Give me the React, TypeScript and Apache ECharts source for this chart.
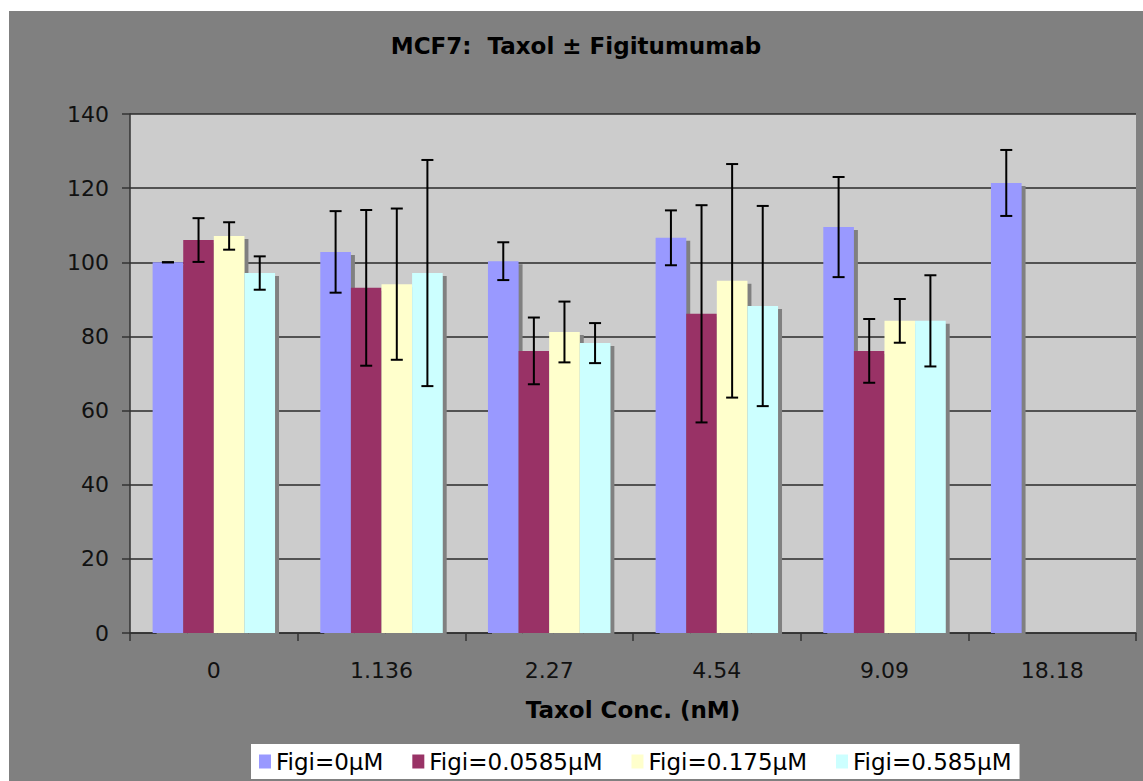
import React, { useEffect, useRef } from "react";
import * as echarts from "echarts";

const categories = ["0", "1.136", "2.27", "4.54", "9.09", "18.18"];
const seriesNames = ["Figi=0μM", "Figi=0.0585μM", "Figi=0.175μM", "Figi=0.585μM"];
const seriesColors = ["#9999FF", "#993366", "#FFFFCC", "#CCFFFF"];

const figi0 = [100, 102.8, 100.3, 106.6, 109.5, 121.4];
const figi00585 = [106, 93.1, 76.1, 86.1, 76.1, null];
const figi0175 = [107.1, 94.1, 81.2, 95.0, 84.2, null];
const figi0585 = [97.1, 97.1, 78.2, 88.2, 84.2, null];

const err0 = [0, 11, 5.1, 7.4, 13.5, 8.9];
const err00585 = [5.9, 21, 9, 29.3, 8.6, null];
const err0175 = [3.7, 20.4, 8.2, 31.5, 5.9, null];
const err0585 = [4.5, 30.5, 5.4, 27, 12.3, null];

const yTicks = { min: 0, max: 140, interval: 20 };

const FONT = "DejaVu Sans";
const CAT_GAP = 0.27;

export default function App() {
  const ref = useRef<HTMLDivElement>(null);

  useEffect(() => {
    if (!ref.current) return;
    const chart = echarts.init(ref.current, null, { renderer: "svg" });

    const values = [figi0, figi00585, figi0175, figi0585];
    const errors = [err0, err00585, err0175, err0585];

    const errData: number[][] = [];
    values.forEach((vals, s) => {
      vals.forEach((v, i) => {
        const e = errors[s][i];
        if (v !== null && e !== null && e !== undefined) {
          errData.push([i, v as number, e as number, s]);
        }
      });
    });

    const barSeries = seriesNames.map((name, s) => ({
      name,
      type: "bar",
      data: values[s],
      barGap: "0%",
      barCategoryGap: CAT_GAP * 100 + "%",
      itemStyle: {
        color: seriesColors[s],
        shadowColor: "#808080",
        shadowOffsetX: 4,
        shadowOffsetY: 3,
        shadowBlur: 0,
      },
      emphasis: { disabled: true },
      z: 2,
    }));

    const option: any = {
      animation: false,
      backgroundColor: "#808080",
      textStyle: { fontFamily: FONT },
      title: {
        text: "MCF7:  Taxol ± Figitumumab",
        left: "center",
        top: 23,
        padding: 0,
        textStyle: {
          fontFamily: FONT,
          fontWeight: "bold",
          fontSize: 23,
          lineHeight: 23,
          color: "#000",
        },
      },
      legend: {
        data: seriesNames,
        left: 242,
        top: 733,
        padding: [6, 8, 6, 8],
        backgroundColor: "#FFFFFF",
        itemWidth: 12,
        itemHeight: 14,
        itemGap: 29,
        icon: "rect",
        selectedMode: false,
        textStyle: { fontFamily: FONT, fontSize: 23, lineHeight: 23, color: "#000" },
      },
      grid: {
        left: 121,
        top: 103,
        right: 7,
        bottom: 148,
        show: true,
        backgroundColor: "#CCCCCC",
        borderWidth: 0,
      },
      xAxis: {
        type: "category",
        data: categories,
        name: "Taxol Conc. (nM)",
        nameLocation: "middle",
        nameGap: 65,
        nameTextStyle: {
          fontFamily: FONT,
          fontWeight: "bold",
          fontSize: 23,
          lineHeight: 23,
          color: "#000",
        },
        axisLine: { show: true, lineStyle: { color: "#333", width: 1.5 } },
        axisTick: { show: true, alignWithLabel: false, length: 8, lineStyle: { color: "#333", width: 1.5 } },
        axisLabel: { fontFamily: FONT, fontSize: 22, lineHeight: 22, color: "#111", margin: 26 },
        splitLine: { show: false },
      },
      yAxis: {
        type: "value",
        min: yTicks.min,
        max: yTicks.max,
        interval: yTicks.interval,
        axisLine: { show: true, lineStyle: { color: "#333", width: 1.5 } },
        axisTick: { show: true, length: 8, lineStyle: { color: "#333", width: 1.5 } },
        axisLabel: { fontFamily: FONT, fontSize: 22, color: "#111", margin: 21 },
        splitLine: { show: true, lineStyle: { color: "#2a2a2a", width: 1.5 } },
      },
      series: [
        ...barSeries,
        {
          type: "custom",
          data: errData,
          encode: { x: 0, y: 1 },
          z: 10,
          silent: true,
          renderItem: (params: any, api: any) => {
            const cat = api.value(0);
            const val = api.value(1);
            const err = api.value(2);
            const s = api.value(3);
            const band = api.size([1, 0])[0];
            const bw = (band * (1 - CAT_GAP)) / 4;
            const c = api.coord([cat, val]);
            const x = c[0] + (s - 1.5) * bw;
            const yTop = api.coord([cat, val + err])[1];
            const yBot = api.coord([cat, val - err])[1];
            const cap = 6;
            const style = { stroke: "#000", lineWidth: 2 };
            return {
              type: "group",
              children: [
                { type: "line", shape: { x1: x, y1: yTop, x2: x, y2: yBot }, style },
                { type: "line", shape: { x1: x - cap, y1: yTop, x2: x + cap, y2: yTop }, style },
                { type: "line", shape: { x1: x - cap, y1: yBot, x2: x + cap, y2: yBot }, style },
              ],
            };
          },
        },
      ],
    };

    chart.setOption(option);
    return () => {
      chart.dispose();
    };
  }, []);

  return (
    <div
      ref={ref}
      style={{ position: "absolute", left: 9, top: 11, width: 1134, height: 770 }}
    />
  );
}
